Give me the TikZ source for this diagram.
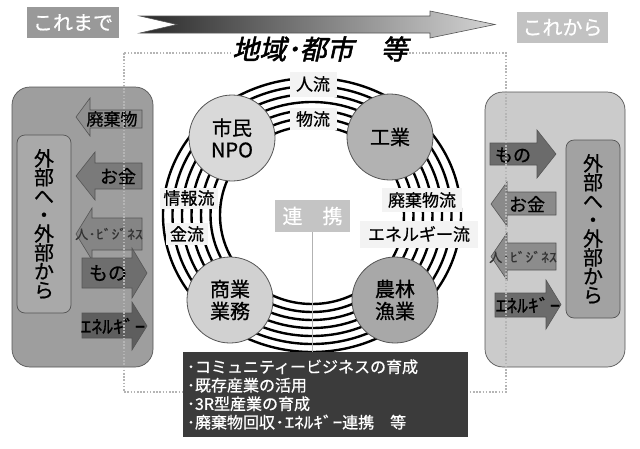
\documentclass[tikz,border=0pt]{standalone}
\usepackage{fontspec}
\setmainfont[FakeBold=0.7]{Noto Sans CJK JP}
\newfontfamily\jpttl[FakeSlant=0.22,FakeBold=2]{Noto Sans CJK JP}
\newfontfamily\hwk[FakeStretch=1.2,FakeBold=0.7]{Noto Sans CJK JP}
\newcommand\fsz[1]{\fontsize{#1}{#1}\selectfont}
\definecolor{tagA}{HTML}{999999}
\definecolor{tagB}{HTML}{C2C2C2}
\definecolor{gDark}{HTML}{2A2A2A}
\definecolor{gLight}{HTML}{D4D4D4}
\definecolor{panelL}{HTML}{9E9E9E}
\definecolor{panelR}{HTML}{CBCBCB}
\definecolor{innerL}{HTML}{A9A9A9}
\definecolor{innerR}{HTML}{A2A2A2}
\definecolor{edge}{HTML}{555555}
\definecolor{dotc}{HTML}{B5B5B5}
\definecolor{lblbg}{HTML}{F3F3F3}
\definecolor{renk}{HTML}{C4C4C4}
\definecolor{plan}{HTML}{3B3B3B}
\newcommand\arrowL[8]{\filldraw[fill=#1,draw=edge,line width=0.6pt] (#2,{(#5+#8)/2}) -- (#3,#5) -- (#3,#6) -- (#4,#6) -- (#4,#7) -- (#3,#7) -- (#3,#8) -- cycle;}
\newcommand\arrowR[8]{\filldraw[fill=#1,draw=edge,line width=0.6pt] (#2,#6) -- (#3,#6) -- (#3,#5) -- (#4,{(#5+#8)/2}) -- (#3,#8) -- (#3,#7) -- (#2,#7) -- cycle;}
\begin{document}
\begin{tikzpicture}[x=1pt,y=-1pt,
  tagbox/.style={inner sep=0pt,text=white,font=\fsz{20}},
  panel/.style={draw=edge,line width=0.7pt,rounded corners=18pt},
  innerbox/.style={draw=edge,line width=0.7pt,rounded corners=8pt,inner sep=0pt,align=center,font=\fontsize{20}{18.8}\selectfont},
  atext/.style={inner sep=0pt},
  hub/.style={circle,draw=edge,line width=0.8pt,minimum size=86pt,inner sep=0pt,align=center,font=\fontsize{20}{22}\selectfont},
  flowlbl/.style={fill=lblbg,inner sep=0pt,font=\fsz{17}},
  ring/.style={line width=2.4pt}]
\useasboundingbox (0,0) rectangle (640,448);
\fill[white] (0,0) rectangle (640,448);
% top tags
\node[tagbox,fill=tagA,minimum width=92pt,minimum height=31pt] (before) at (73,22.5) {これまで};
\node[tagbox,fill=tagB,minimum width=91pt,minimum height=31pt] (after) at (562.5,27.5) {これから};
% gradient arrow
\shade[left color=gDark,right color=gLight,draw=edge,line width=0.6pt]
  (140,16) -- (430,16) -- (430,11) -- (495,24.5) -- (430,38) -- (430,33) -- (140,33) -- (177,24.5) -- cycle;
% side panels
\draw[panel,fill=panelL] (12,87) rectangle (153,367);
\draw[panel,fill=panelR] (485,92) rectangle (625,367);
\node[innerbox,fill=innerL,minimum width=54pt,minimum height=178pt] (linner) at (44,224) {外\\部\\へ\\・\\外\\部\\か\\ら};
\node[innerbox,fill=innerR,minimum width=54pt,minimum height=178pt] (rinner) at (593,229) {外\\部\\へ\\・\\外\\部\\か\\ら};
% left arrows
\arrowL{black!44}{76}{90}{142}{98}{110}{128}{136}
\node[atext,font=\fsz{17}] (lwaste) at (112,119) {廃棄物};
\arrowL{black!52}{76}{95}{142}{152}{163}{189}{200}
\node[atext,font=\fsz{18}] (lmoney) at (118,176) {お金};
\arrowL{black!48}{76}{92}{142}{208}{218}{250}{260}
\node[atext,font=\fsz{13},text=black!80] (lbiz) at (109,234) {人{\hwk ･ﾋﾞｼﾞﾈｽ}};
\arrowR{black!57}{82}{132}{147}{248}{258}{288}{298}
\node[atext,font=\fsz{19}] (lgoods) at (108,273) {もの};
\arrowR{black!63}{82}{132}{147}{302}{313}{338}{350}
\node[atext,font=\hwk\fsz{18}] (lenergy) at (113,326) {ｴﾈﾙｷﾞｰ};
% right arrows
\arrowR{black!58}{490}{537}{556}{130}{143}{165}{178}
\node[atext,font=\fsz{18}] (rgoods) at (513,155) {もの};
\arrowL{black!46}{491}{507}{556}{182}{192}{215}{226}
\node[atext,font=\fsz{18}] (rmoney) at (527,204) {お金};
\arrowL{black!45}{491}{507}{556}{233}{243}{270}{280}
\node[atext,font=\fsz{13},text=black!80] (rbiz) at (523,257) {人{\hwk ･ﾋﾞｼﾞﾈｽ}};
\arrowR{black!58}{495}{546}{561}{280}{293}{317}{329}
\node[atext,font=\hwk\fsz{18}] (renergy) at (528,305) {ｴﾈﾙｷﾞｰ};
% dotted area
\draw[dotc,line width=1.6pt,dash pattern=on 1.6pt off 1.6pt] (124,53) rectangle (506,392);
% title
\node[fill=white,inner sep=1pt,font=\jpttl\fsz{27}] (title) at (320,49) {地域･都市　等};
% rings
\foreach \k in {0,...,6}{
  \pgfmathsetmacro\rx{92+9.5*\k}
  \pgfmathsetmacro\ry{89+8*\k}
  \draw[ring] (312,215) ellipse [x radius=\rx pt, y radius=\ry pt];
}
% hubs
\node[hub,fill=black!15] (citizen) at (232,138) {市民\\NPO};
\node[hub,fill=black!30] (industry) at (390,137) {工業};
\node[hub,fill=black!18] (commerce) at (230,300) {商業\\業務};
\node[hub,fill=black!34] (agri) at (395,300) {農林\\漁業};
% flow labels
\node[flowlbl,minimum width=47pt,minimum height=25pt] (fpeople) at (313,84) {人流};
\node[flowlbl,minimum width=47pt,minimum height=22pt] (fgoods) at (313,119) {物流};
\node[flowlbl,minimum width=58pt,minimum height=21pt] (finfo) at (189,198) {情報流};
\node[flowlbl,minimum width=42pt,minimum height=22pt] (fmoney) at (187,234) {金流};
\node[flowlbl,minimum width=80pt,minimum height=24pt] (fwaste) at (422,200) {廃棄物流};
\node[flowlbl,minimum width=118pt,minimum height=27pt] (fenergy) at (419,234) {エネルギー流};
% renkei
\node[fill=renk,text=white,inner sep=0pt,minimum width=75pt,minimum height=32pt,font=\fsz{20}] (renkei) at (312.5,216) {連　携};
% plan box
\node[fill=plan,text=white,inner sep=0pt,minimum width=285pt,minimum height=85pt,text width=277pt,align=left,font=\fontsize{16}{18.5}\selectfont] (planbox) at (325.5,394.5)
  {･コミュニティービジネスの育成\\･既存産業の活用\\･3R型産業の育成\\･廃棄物回収{\hwk ･ｴﾈﾙｷﾞｰ}連携　等};
\coordinate (linkend) at (renkei.south |- planbox.north);
\draw[black!30,line width=1.5pt] (renkei.south) -- (linkend);
\end{tikzpicture}
\end{document}
